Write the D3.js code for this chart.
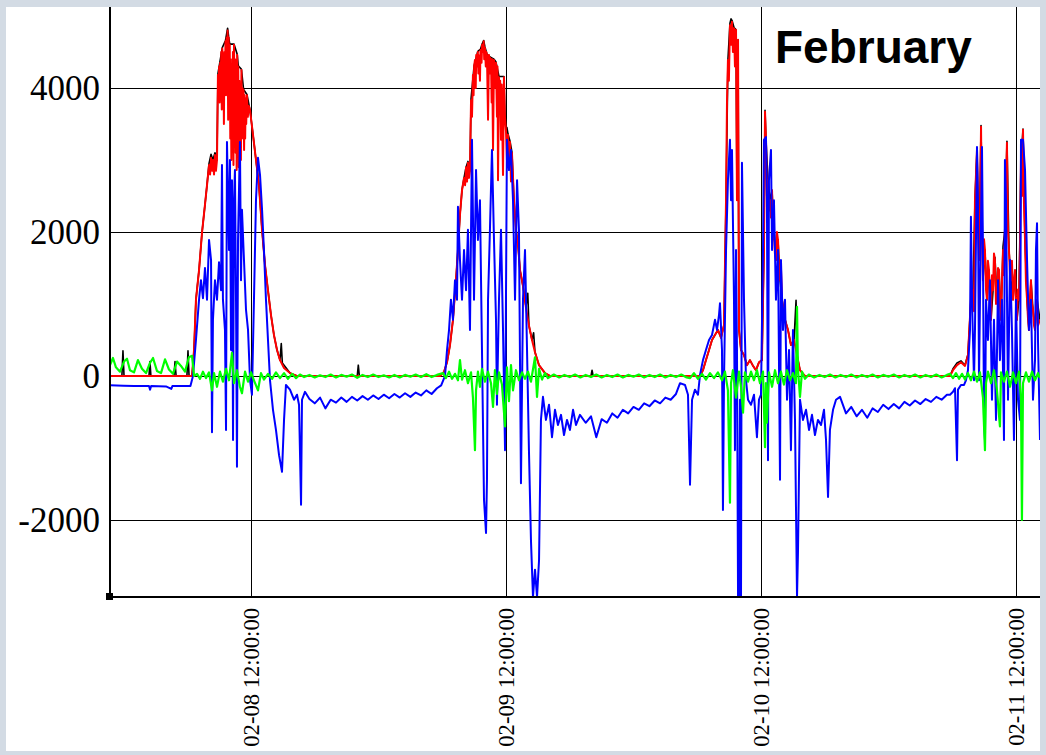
<!DOCTYPE html>
<html>
<head>
<meta charset="utf-8">
<script src="https://cdn.jsdelivr.net/npm/d3@7"></script>
<style>
  body { margin: 0; background: #d3dbe4; }
  svg { display: block; }
</style>
</head>
<body>
<svg id="chart" width="1046" height="755"></svg>
<script>
// time is hours after 02-08 00:00, values in W
var domainHours = [-1.27, 86.26]
var valueDomain = [-3070, 5125]
var yTicks = [-2000, 0, 2000, 4000]
var xTickLabels = ["02-08 12:00:00", "02-09 12:00:00", "02-10 12:00:00", "02-11 12:00:00"]
var title = "February"

var blackPts = [
  [-1.27,0],[-0.15,0],[-0.05,350],[0.05,0],[2.4,0],[2.49,200],[2.58,0],[4.75,0],[4.85,200],[4.95,0],[5.97,0],[6.07,350],[6.17,0],[6.45,0],
  [6.64,360],[6.82,1060],[7.11,1470],[7.39,1990],[7.67,2380],[7.86,2650],[8.05,2950],[8.24,3080],[8.42,3000],[8.61,3100],
  [8.80,3000],[8.89,4200],[9.3,4560],[9.6,4660],[9.8,4830],[9.9,4710],[10.0,4610],[10.4,4610],[10.7,4470],[10.8,4310],
  [11.1,4260],[11.3,3980],[11.62,3910],[11.91,3690],[12.19,3350],[12.47,3000],[12.75,2650],[13.04,2030],[13.32,1540],
  [13.60,1190],[13.88,850],[14.16,570],[14.45,360],[14.73,220],[14.85,450],[14.95,180],[15.67,40],[16.33,0],
  [22,0],[22.1,150],[22.2,0],[29.79,0],
  [30.16,55],[30.45,190],[30.73,430],[31.01,780],[31.29,1330],[31.48,1750],[31.67,2240],[31.86,2580],[32.05,2750],
  [32.24,2900],[32.42,2980],[32.61,2850],[32.71,3850],[33.0,4310],[33.35,4510],[33.6,4540],[33.75,4610],[33.9,4660],
  [34.02,4570],[34.21,4470],[34.5,4430],[34.87,4400],[35.06,4360],[35.34,4160],[35.81,4160],[35.9,3610],[36.0,3420],
  [36.09,3450],[36.19,3360],[36.38,3260],[36.56,3110],[36.75,2440],[36.94,2030],[37.13,1820],[37.32,1470],[37.60,1250],
  [37.88,960],[38.05,1150],[38.16,700],[38.45,500],[38.6,600],[38.73,330],[39.11,150],[39.67,40],[40.14,0],
  [44,0],[44.1,80],[44.2,0],[54.25,0],
  [54.54,80],[54.82,220],[55.11,360],[55.39,500],[55.67,570],[55.95,640],[56.24,530],[56.52,710],[56.71,2440],
  [56.89,4390],[57.08,4900],[57.18,4960],[57.27,4940],[57.46,4840],[57.65,4810],[57.74,2440],[57.84,4670],[57.93,640],
  [58.12,360],[58.40,290],[58.68,150],[58.96,220],[59.25,140],[59.53,80],[59.81,190],[60.09,220],[60.28,1750],[60.38,3690],
  [60.47,3280],[60.66,2720],[60.85,2440],[61.04,2580],[61.22,2030],[61.41,1610],[61.60,1890],[61.79,1330],[61.98,1060],
  [62.26,780],[62.54,640],[62.82,430],[63.11,500],[63.30,1050],[63.39,290],[63.67,80],[64.14,0],[77.79,0],
  [78.07,100],[78.45,180],[78.82,210],[79.20,150],[79.48,300],[79.76,1060],[79.95,1190],[80.14,2440],[80.33,3140],
  [80.52,1610],[80.71,3480],[80.89,1330],[81.08,1750],[81.27,1060],[81.46,1470],[81.65,780],[81.84,1190],[82.02,1650],
  [82.21,1060],[82.40,1470],[82.59,780],[82.78,1800],[82.96,2030],[83.15,3260],[83.34,1750],[83.53,1330],[83.72,1060],
  [83.91,1470],[84.09,780],[84.28,1060],[84.47,3000],[84.66,3430],[84.85,1890],[85.04,1060],[85.22,640],[85.41,1330],
  [85.60,920],[85.79,640],[85.98,1060],[86.26,780]
]

var redPts = [
  [-1.27,0],[6.45,0],[6.64,360],[6.82,1060],[7.11,1470],[7.39,1990],[7.67,2380],[7.86,2650],[8.05,2930],[8.15,2800],
  [8.24,3030],[8.33,2850],[8.42,3000],[8.52,2800],[8.61,3070],[8.70,2850],[8.80,3000],
  [8.89,4180],[8.95,3900],[9.0,4300],[9.05,3800],[9.1,4350],[9.15,4000],[9.2,4500],[9.25,3700],[9.3,4550],[9.35,4200],
  [9.4,4450],[9.45,3500],[9.5,4500],[9.55,4100],[9.6,4650],[9.65,3900],[9.7,4700],[9.75,4300],[9.8,4800],[9.85,3560],
  [9.9,4700],[9.95,4000],[10.0,4600],[10.05,3300],[10.1,4400],[10.15,3000],[10.2,4250],[10.25,3500],[10.3,4500],
  [10.35,2930],[10.4,4600],[10.45,3800],[10.5,4400],[10.55,3100],[10.6,4390],[10.65,2860],[10.7,4460],[10.75,3600],
  [10.8,4300],[10.85,2900],[10.9,4100],[10.95,3400],[11.0,4040],[11.05,3000],[11.1,4250],[11.15,3500],[11.2,4000],
  [11.25,3300],[11.3,3970],[11.35,3140],[11.4,3900],[11.45,3300],[11.5,3850],[11.55,3500],[11.62,3900],[11.7,3600],
  [11.8,3750],[11.91,3690],[12.19,3350],[12.47,3000],[12.75,2650],[13.04,2030],[13.32,1540],[13.60,1190],[13.88,850],
  [14.16,570],[14.45,360],[14.73,220],[15.11,110],[15.67,40],[16.33,0],
  [29.79,0],[30.16,55],[30.45,190],[30.73,430],[31.01,780],[31.29,1330],[31.48,1750],[31.67,2240],[31.86,2580],[32.05,2750],
  [32.15,2650],[32.24,2900],[32.33,2700],[32.42,2960],[32.52,2750],[32.61,2850],
  [32.71,3830],[32.8,3600],[32.89,4180],[32.95,3900],[33.0,4300],[33.08,4390],[33.15,4000],[33.2,4460],[33.27,4300],
  [33.35,4500],[33.4,4200],[33.46,4450],[33.55,4100],[33.6,4530],[33.7,4350],[33.75,4600],[33.84,4500],[33.9,4650],
  [33.95,4400],[34.02,4560],[34.1,4300],[34.15,4500],[34.21,4460],[34.31,3560],[34.4,4460],[34.45,4200],[34.5,4420],
  [34.59,4400],[34.65,3800],[34.7,4400],[34.78,3140],[34.87,4390],[34.93,4000],[35.0,4350],[35.06,4350],[35.15,3600],
  [35.2,4300],[35.25,2720],[35.34,4150],[35.4,3800],[35.45,4100],[35.53,3280],[35.6,4050],[35.65,3500],[35.72,2790],
  [35.81,4150],[35.9,3600],[36.0,3400],[36.09,3000],[36.19,3350],[36.28,2900],[36.38,3250],[36.47,2700],[36.56,3100],
  [36.75,2440],[36.94,2030],[37.13,1820],[37.32,1470],[37.60,1250],[37.88,950],[38.16,700],[38.45,500],[38.73,330],
  [39.11,150],[39.67,40],[40.14,0],
  [54.25,0],[54.54,80],[54.82,220],[55.11,360],[55.39,500],[55.67,570],[55.95,640],[56.24,530],[56.52,710],[56.71,2440],
  [56.8,3800],[56.89,4390],[56.98,4100],[57.08,4870],[57.18,4600],[57.27,4920],[57.36,4500],[57.46,4830],[57.55,4300],
  [57.65,4810],[57.74,2440],[57.84,4670],[57.93,640],[58.12,360],
  [58.40,290],[58.68,150],[58.96,220],[59.25,140],[59.53,80],[59.81,190],[60.09,220],[60.28,1750],[60.38,3670],[60.47,3280],
  [60.56,2500],[60.66,2720],[60.75,2300],[60.85,2440],[60.94,2200],[61.04,2580],[61.13,1900],[61.22,2030],[61.31,1700],
  [61.41,1610],[61.5,2000],[61.60,1890],[61.7,1500],[61.79,1330],[61.88,1500],[61.98,1060],[62.26,780],
  [62.54,640],[62.82,430],[63.11,500],[63.39,290],[63.67,80],[64.14,0],
  [77.79,0],[78.07,80],[78.45,150],[78.82,190],[79.20,140],[79.48,290],[79.76,1060],[79.95,1190],[80.05,900],[80.14,2440],
  [80.33,3140],[80.42,2300],[80.52,1610],[80.61,2200],[80.71,3460],[80.80,2000],[80.89,1330],[80.99,1900],[81.08,1750],
  [81.18,1200],[81.27,1060],[81.36,1600],[81.46,1470],[81.55,900],[81.65,780],[81.74,1400],[81.84,1190],[81.93,1700],
  [82.02,1610],[82.12,1000],[82.21,1060],[82.31,1500],[82.40,1470],[82.49,1000],[82.59,780],[82.68,1300],[82.78,1750],
  [82.87,1400],[82.96,2030],[83.06,2600],[83.15,3240],[83.25,2000],[83.34,1750],[83.44,1400],[83.53,1330],[83.62,1600],
  [83.72,1060],[83.81,1300],[83.91,1470],[84.0,1000],[84.09,780],[84.19,1200],[84.28,1060],[84.38,1800],[84.47,3000],
  [84.56,2500],[84.66,3420],[84.75,2400],[84.85,1890],[84.94,1300],[85.04,1060],[85.13,800],[85.22,640],[85.32,1100],
  [85.41,1330],[85.51,1000],[85.60,920],[85.70,700],[85.79,640],[85.88,900],[85.98,1060],[86.07,700],[86.26,780]
]

var bluePts = [
  [-1.27,-130],[0,-135],[1,-140],[2.4,-140],[2.5,-190],[2.6,-140],[4,-145],[4.5,-180],[4.6,-140],[6.3,-140],
  [6.54,0],[6.82,500],[7.11,1060],[7.29,1330],[7.48,1080],[7.67,1500],[7.86,1060],[8.05,1890],[8.24,1610],[8.33,-780],
  [8.42,780],[8.61,1330],[8.80,1060],[8.99,1580],[9.18,1190],[9.27,2930],[9.36,1060],[9.55,640],[9.65,-750],[9.74,3250],
  [9.93,1750],[10.02,3000],[10.12,360],[10.21,2720],[10.31,-890],[10.40,2440],[10.49,2860],[10.59,1060],[10.68,-1260],
  [10.78,1890],[10.87,2580],[10.96,3250],[11.06,1330],[11.15,2310],[11.34,1610],[11.53,920],[11.72,640],[11.91,-60],
  [12.09,-260],[12.28,1060],[12.47,2440],[12.66,3030],[12.85,2790],[13.04,2310],[13.22,1750],[13.41,1060],[13.60,500],
  [13.79,-60],[14.07,-470],[14.35,-750],[14.64,-1100],[14.92,-1330],[15.11,-610],[15.29,-125],[15.67,-190],[16.05,-330],
  [16.33,-260],[16.52,-400],[16.71,-1790],[16.80,-330],[17.08,-220],
  [17.5,-320],[18,-380],[18.5,-300],[19,-450],[19.5,-330],[20,-370],[20.5,-300],[21,-360],[21.5,-290],[22,-340],
  [22.5,-280],[23,-330],[23.5,-270],[24,-320],[24.5,-260],[25,-310],[25.5,-250],[26,-300],[26.5,-240],[27,-290],
  [27.5,-230],[28,-270],[28.5,-200],[29,-250],[29.5,-170],[29.9,-130],
  [30.26,0],[30.45,360],[30.64,640],[30.82,1060],[31.01,780],[31.20,1330],[31.39,1060],[31.48,2350],[31.67,1610],[31.86,1060],
  [32.05,1750],[32.24,1190],[32.42,2030],[32.61,640],[32.80,3280],[32.99,1060],[33.18,2860],[33.36,1890],[33.55,2440],
  [33.74,360],[33.93,-1720],[34.12,-2180],[34.21,-1440],[34.31,1060],[34.49,2030],[34.68,3140],[34.87,1890],[35.06,780],
  [35.15,-400],[35.34,1060],[35.53,2030],[35.72,640],[35.91,-1030],[36.09,3280],[36.28,2860],[36.47,3140],[36.66,2440],
  [36.85,1060],[37.04,2720],[37.22,2030],[37.41,-1490],[37.60,1060],[37.79,1750],[37.98,360],[38.16,-1030],[38.35,-2280],
  [38.54,-3070],[38.73,-2690],[38.92,-3070],[39.11,-2560],[39.29,-610],[39.48,-290],[39.76,-610],[40.05,-400],[40.33,-850],
  [40.61,-470],[40.89,-680],[41.18,-540],[41.46,-820],[41.74,-610],[42.02,-750],[42.31,-470],[42.59,-680],[42.96,-540],
  [43.5,-650],[44,-560],[44.5,-850],[45,-600],[45.5,-650],[46,-520],[46.5,-580],[47,-470],[47.5,-520],[48,-430],
  [48.5,-470],[49,-380],[49.5,-420],[50,-340],[50.5,-380],[51,-300],[51.5,-330],[52,-250],
  [52.38,-100],[52.85,-125],[53.13,-260],[53.32,-1510],[53.51,-330],[53.79,-190],[54.07,-260],[54.26,15],[54.54,220],
  [54.82,360],[55.11,500],[55.39,570],[55.67,780],[55.86,640],[56.05,850],[56.14,1010],[56.33,360],[56.42,-1860],[56.52,-60],
  [56.71,1750],[56.89,2720],[57.08,3280],[57.18,2440],[57.27,3140],[57.46,1060],[57.55,-1030],[57.65,1750],[57.74,360],
  [57.84,-3070],[57.93,-3070],[58.02,-330],[58.12,-3070],[58.21,2960],[58.40,1060],[58.59,-60],[58.78,-330],[59.06,-400],
  [59.34,-260],[59.62,-850],[59.81,-330],[60.00,-260],[60.19,1750],[60.28,3280],[60.47,3320],[60.56,2440],[60.66,-1170],
  [60.75,2720],[60.94,3140],[61.04,1750],[61.22,2440],[61.41,1060],[61.60,1750],[61.79,-1440],[61.88,1610],[62.07,640],
  [62.26,1060],[62.45,-330],[62.64,360],[62.82,-1030],[63.01,640],[63.20,-610],[63.39,-3070],[63.48,-2460],[63.67,-330],
  [63.95,-610],[64.24,-470],[64.52,-750],[64.80,-540],[65.08,-820],[65.36,-610],[65.65,-680],[65.93,-470],[66.12,-890],
  [66.31,-1680],[66.49,-750],[66.78,-470],[67.06,-330],[67.44,-290],
  [68,-520],[68.5,-430],[69,-560],[69.5,-470],[70,-580],[70.5,-450],[71,-500],[71.5,-400],[72,-460],[72.5,-390],
  [73,-450],[73.5,-360],[74,-410],[74.5,-340],[75,-390],[75.5,-320],[76,-360],[76.5,-290],[77,-330],[77.5,-260],
  [77.79,-260],[78.07,-220],[78.26,-170],[78.45,-1170],[78.54,-190],[78.82,-125],[79.11,-125],[79.29,-60],[79.48,80],
  [79.67,640],[79.76,2210],[79.86,1060],[80.05,-60],[80.14,640],[80.33,3180],[80.42,2440],[80.52,-60],[80.61,1060],
  [80.80,3180],[80.89,1750],[80.99,-610],[81.08,-890],[81.18,1060],[81.36,500],[81.55,1330],[81.74,-330],[81.93,780],
  [82.12,-610],[82.31,1330],[82.49,220],[82.68,1060],[82.87,-890],[82.96,3000],[83.06,2440],[83.25,-330],[83.44,1610],
  [83.62,640],[83.81,-890],[84.00,1060],[84.19,-330],[84.38,-610],[84.47,3280],[84.66,3280],[84.85,2860],[85.04,1610],
  [85.22,640],[85.41,1060],[85.60,-330],[85.79,220],[85.88,1750],[85.98,2120],[86.07,500],[86.26,-890]
]

var greenPts = [
  [-1.27,150],[-0.99,250],[-0.71,120],[-0.33,60],[0.05,200],[0.33,240],[0.61,80],[0.99,50],[1.36,220],[1.74,100],
  [2.12,40],[2.49,180],[2.78,250],[3.15,70],[3.53,40],[3.91,230],[4.28,90],[4.66,30],[5.04,200],[5.41,140],[5.79,60],
  [6.16,260],[6.45,280],[6.64,0],
  [6.92,30],[7.2,-40],[7.48,60],[7.76,-30],[8.05,50],[8.33,-200],[8.52,40],[8.8,-150],[9.08,60],[9.36,-80],[9.65,100],
  [9.93,-60],[10.21,320],[10.40,-100],[10.68,80],[10.96,-150],[11.15,-240],[11.44,60],[11.72,-80],[12.0,50],[12.28,-60],
  [12.66,-200],[12.94,40],[13.22,-50],[13.6,30],[13.98,-40],[14.35,50],[14.73,-30],[15.11,40],[15.48,-40],[15.86,30],
  [16.24,-30],[16.61,20],
  [17,-15],[17.5,15],[18,-20],[18.5,10],[19,-15],[19.5,20],[20,-20],[20.5,15],[21,-10],[21.5,20],[22,-25],[22.5,15],
  [23,-15],[23.5,20],[24,-15],[24.5,10],[25,-20],[25.5,15],[26,-20],[26.5,15],[27,-10],[27.5,20],[28,-15],[28.5,25],
  [29,-15],[29.5,15],
  [30.07,40],[30.35,-30],[30.64,60],[30.92,-40],[31.2,30],[31.48,-60],[31.67,220],[31.86,-50],[32.14,80],[32.42,-100],
  [32.71,50],[32.89,-300],[33.08,-1030],[33.18,-200],[33.36,60],[33.55,-150],[33.74,100],[34.02,-80],[34.31,60],
  [34.59,-100],[34.78,-430],[34.96,80],[35.15,-250],[35.34,50],[35.62,-120],[35.91,-700],[36.09,120],[36.28,-350],
  [36.47,150],[36.66,-200],[36.94,80],[37.22,-60],[37.51,50],[37.79,-40],[38.07,60],[38.35,-80],[38.73,260],[38.92,-290],
  [39.11,100],[39.39,-50],[39.67,40],[39.95,-30],
  [40.5,20],[41,-20],[41.5,15],[42,-15],[42.5,20],[43,-20],[43.5,15],[44,-15],[44.5,20],[45,-20],[45.5,15],[46,-15],
  [46.5,20],[47,-20],[47.5,15],[48,-10],[48.5,20],[49,-20],[49.5,15],[50,-15],[50.5,20],[51,-20],[51.5,15],[52,-15],
  [52.5,20],[53,-20],
  [53.32,-30],[53.69,40],[54.07,-40],[54.45,30],[54.82,-50],[55.2,40],[55.58,-30],[55.95,50],[56.33,-60],[56.61,60],
  [56.89,-200],[57.08,-1760],[57.18,-100],[57.36,80],[57.65,-300],[57.93,60],[58.12,-150],[58.31,-510],[58.49,50],
  [58.78,-80],[59.06,60],[59.34,-60],[59.62,80],[59.91,-100],[60.19,60],[60.38,-990],[60.47,-100],[60.56,-650],[60.75,50],
  [61.04,-150],[61.32,80],[61.6,-100],[61.88,60],[62.16,-120],[62.45,80],[62.73,-60],[63.01,40],[63.29,-100],[63.39,960],
  [63.48,100],[63.67,-290],[63.86,60],[64.14,-40],
  [64.5,20],[65,-20],[65.5,15],[66,-15],[66.5,20],[67,-20],[67.5,15],[68,-15],[68.5,20],[69,-20],[69.5,15],[70,-15],
  [70.5,20],[71,-20],[71.5,15],[72,-10],[72.5,20],[73,-20],[73.5,15],[74,-15],[74.5,20],[75,-20],[75.5,15],[76,-15],
  [76.5,20],[77,-20],[77.5,15],
  [77.79,30],[78.07,-30],[78.35,40],[78.64,-40],[78.92,30],[79.2,-50],[79.48,40],[79.76,-60],[80.05,60],[80.33,-80],
  [80.61,50],[80.89,-300],[81.08,-1030],[81.18,-100],[81.36,60],[81.65,-100],[81.93,80],[82.21,-200],[82.49,-700],
  [82.59,50],[82.87,-80],[83.15,60],[83.44,-150],[83.72,50],[84.0,-100],[84.28,60],[84.47,-300],[84.56,-2000],
  [84.66,-100],[84.94,50],[85.22,-80],[85.51,60],[85.79,-60],[86.07,40],[86.26,-30]
]

var baseTime = Date.UTC(1900, 1, 8, 0, 0, 0)
function toDate(h) { return new Date(baseTime + h * 3600000) }
var parseTick = d3.utcParse("%m-%d %H:%M:%S")

var svg = d3.select("#chart")

// white sheet behind the chart
svg.append("rect")
  .attr("x", 6).attr("y", 7)
  .attr("width", 1034).attr("height", 744)
  .attr("fill", "#ffffff")

var plotL = 110, plotR = 1040, plotT = 7, plotB = 597

var x = d3.scaleUtc()
  .domain(domainHours.map(toDate))
  .range([plotL, plotR])

var y = d3.scaleLinear()
  .domain(valueDomain)
  .range([plotB, plotT])

// horizontal grid + labels
svg.append("g")
  .attr("transform", "translate(" + plotL + ",0)")
  .call(d3.axisLeft(y).tickValues(yTicks).tickSize(-(plotR - plotL)).tickSizeOuter(0).tickPadding(10)
    .tickFormat(function (d) { return String(d) }))
  .call(function (g) { g.select(".domain").remove() })
  .call(function (g) {
    g.selectAll("line").attr("stroke", "#000").attr("stroke-width", 1).attr("shape-rendering", "crispEdges")
  })
  .call(function (g) {
    g.selectAll("text")
      .attr("font-family", "'Liberation Serif', 'Times New Roman', serif")
      .attr("font-size", 35)
      .attr("fill", "#000")
  })

// vertical grid + rotated date labels
svg.append("g")
  .attr("transform", "translate(0," + plotB + ")")
  .call(d3.axisBottom(x).tickValues(xTickLabels.map(parseTick)).tickSize(-(plotB - plotT)).tickSizeOuter(0)
    .tickFormat(d3.utcFormat("%m-%d %H:%M:%S")))
  .call(function (g) { g.select(".domain").remove() })
  .call(function (g) {
    g.selectAll("line").attr("stroke", "#000").attr("stroke-width", 1).attr("shape-rendering", "crispEdges")
  })
  .call(function (g) {
    g.selectAll("text")
      .attr("transform", "rotate(-90)")
      .attr("text-anchor", "end")
      .attr("x", -11)
      .attr("y", 0)
      .attr("dy", "0.35em")
      .attr("font-family", "'Liberation Serif', 'Times New Roman', serif")
      .attr("font-size", 22.6)
      .attr("fill", "#000")
  })

svg.append("clipPath").attr("id", "plotClip")
  .append("rect").attr("x", plotL).attr("y", plotT).attr("width", plotR - plotL).attr("height", plotB - plotT)

var line = d3.line()
  .x(function (d) { return x(toDate(d[0])) })
  .y(function (d) { return y(d[1]) })

var series = [
  { pts: blackPts, color: "#000000", w: 1.6 },
  { pts: redPts, color: "#ff0000", w: 2 },
  { pts: bluePts, color: "#0000ff", w: 2 },
  { pts: greenPts, color: "#00ff00", w: 2.2 }
]

var plot = svg.append("g").attr("clip-path", "url(#plotClip)")
series.forEach(function (s) {
  plot.append("path")
    .datum(s.pts)
    .attr("d", line)
    .attr("fill", "none")
    .attr("stroke", s.color)
    .attr("stroke-width", s.w)
    .attr("stroke-linejoin", "round")
})

// axis lines
svg.append("line").attr("x1", plotL).attr("x2", plotL).attr("y1", plotT).attr("y2", plotB)
  .attr("stroke", "#000").attr("stroke-width", 2)
svg.append("line").attr("x1", plotL).attr("x2", plotR).attr("y1", plotB).attr("y2", plotB)
  .attr("stroke", "#000").attr("stroke-width", 2)
svg.append("rect").attr("x", plotL - 4).attr("y", plotB - 4).attr("width", 7).attr("height", 7).attr("fill", "#000")

svg.append("text")
  .attr("x", 775)
  .attr("y", 63)
  .attr("font-family", "'Liberation Sans', Arial, sans-serif")
  .attr("font-weight", "bold")
  .attr("font-size", 46)
  .attr("fill", "#000")
  .text(title)
</script>
</body>
</html>
